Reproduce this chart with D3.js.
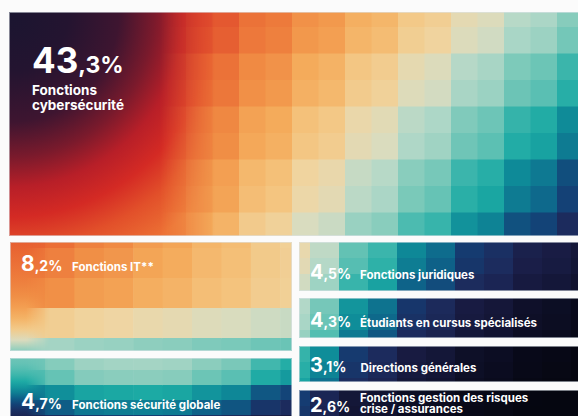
<!DOCTYPE html>
<html>
<head>
<meta charset="utf-8">
<script src="https://cdn.jsdelivr.net/npm/d3@7"></script>
<style>
  html, body { margin: 0; padding: 0; background: #fbfbfb; }
  svg { display: block; font-family: Inter, "Noto Sans", sans-serif; }
</style>
</head>
<body>
<div id="chart"></div>
<script>
// data
const categories = [
  "Fonctions cybersécurité",
  "Fonctions IT**",
  "Fonctions sécurité globale",
  "Fonctions juridiques",
  "Étudiants en cursus spécialisés",
  "Directions générales",
  "Fonctions gestion des risques crise / assurances"
];
const shares = [43.3, 8.2, 4.7, 4.5, 4.3, 3.1, 2.6];

const width = 578, height = 416;

// colour ramp used by the mosaic (position t -> colour)
const rampT = [0, 0.08, 0.16, 0.25, 0.33, 0.41, 0.48, 0.54, 0.6, 0.67, 0.74, 0.8, 0.86, 0.92, 0.98, 1.04, 1.12, 1.22, 1.35, 1.5];
const rampC = ["#cf2a26", "#de452c", "#ea6a34", "#f08c44", "#f4aa5a", "#f4c47e", "#efd6a4", "#d8dcc0",
  "#b2d8c8", "#86ccbc", "#4ebcb0", "#1caaa4", "#0e8a98", "#0e6088", "#143e74", "#1c2c5e",
  "#1a1e48", "#121432", "#0a0b1e", "#050610"];
const tone = d3.scaleLinear().domain(rampT).range(rampC).interpolate(d3.interpolateRgb).clamp(true);

// tiles layout (one per category, same order)
const tiles = [
  { x0: 9, y0: 12, x1: 600, y1: 236, ux: [186, 578], cell: [26.5, 26.5], gx: 186, gy: 0.5, mix: 0.5,
    f: (u, v) => 0.06 + 0.6 * u + 0.24 * v + 0.16 * u * v, smooth: "radial",
    num: [32, 73, 35, 23], lab: [32, 94.5, 13.5, 15, 12] },
  { x0: 10, y0: 242, x1: 292, y1: 351, ux: [10, 292], cell: [29.4, 30], gx: 15.6, gy: 248, mix: 0.35,
    f: (u, v) => 0.12 + 0.34 * u + 0.22 * v + 0.32 * Math.pow(v, 4) - 0.25 * u * v, smooth: [26, 50],
    num: [21, 271, 21, 14], lab: [72, 271, 11.5, 11, 99] },
  { x0: 10, y0: 358, x1: 292, y1: 440, ux: [10, 292], cell: [29.4, 15], gx: 15.6, gy: 355, mix: 0.4,
    f: (u, v) => 0.6 + 0.6 * (u - 0.45) * (u - 0.45) + 0.38 * Math.pow(v, 1.5), smooth: [26, 48],
    num: [21, 409, 21, 14], lab: [72, 409, 11.5, 11, 99] },
  { x0: 299, y0: 242, x1: 600, y1: 291, ux: [299, 578], cell: [29, 16], gx: 281, gy: 242, mix: 0.4,
    f: (u, v) => 0.45 + 0.72 * Math.pow(u, 0.7) + 0.08 * v,
    num: [310, 279, 20, 14], lab: [360, 279, 11.5, 11, 99] },
  { x0: 299, y0: 298, x1: 600, y1: 338, ux: [299, 578], cell: [29, 16], gx: 281, gy: 298, mix: 0.4,
    f: (u, v) => 0.55 + 0.8 * Math.pow(u, 0.7) + 0.06 * v,
    num: [310, 326.5, 20, 14], lab: [360, 326.5, 11.5, 11, 99] },
  { x0: 299, y0: 346, x1: 600, y1: 382, ux: [299, 578], cell: [29, 16], gx: 281, gy: 346, mix: 0.4,
    f: (u, v) => 0.72 + 0.75 * Math.pow(u, 0.7) + 0.06 * v,
    num: [310, 372.3, 20, 14], lab: [360.5, 372.3, 11.5, 11, 99] },
  { x0: 299, y0: 390, x1: 600, y1: 440, ux: [299, 578], cell: [29, 16], gx: 281, gy: 390, mix: 0.4,
    f: (u, v) => 0.93 + 0.6 * Math.pow(u, 0.6) + 0.05 * v,
    num: [310, 412, 20, 14], lab: [360, 402, 11.5, 11, 30] }
];

const svg = d3.select("#chart").append("svg")
  .attr("width", width)
  .attr("height", height)
  .style("background", "#fbfbfb");
const defs = svg.append("defs");

function wrap(text, max) {
  const words = text.split(" "), lines = [];
  let cur = "";
  words.forEach(w => {
    const next = cur ? cur + " " + w : w;
    if (next.length > max && cur) { lines.push(cur); cur = w; } else cur = next;
  });
  lines.push(cur);
  return lines;
}

const fmt = d3.format(".1f");

tiles.forEach((t, i) => {
  const w = t.x1 - t.x0, h = t.y1 - t.y0;
  const yv = Math.min(t.y1, height);
  defs.append("clipPath").attr("id", "clip" + i)
    .append("rect").attr("x", t.x0).attr("y", t.y0).attr("width", w).attr("height", h);

  const ux = d3.scaleLinear().domain(t.ux).range([0, 1]).clamp(true);
  const vy = d3.scaleLinear().domain([t.y0, yv]).range([0, 1]).clamp(true);
  const [bw, bh] = t.cell;

  const cols = d3.range(Math.floor((t.x0 - t.gx) / bw) - 1, Math.ceil((t.x1 - t.gx) / bw) + 1);
  const rows = d3.range(Math.floor((t.y0 - t.gy) / bh) - 1, Math.ceil((t.y1 - t.gy) / bh) + 1);
  const cells = d3.cross(cols, rows).map(([c, r]) => {
    const x = t.gx + c * bw, y = t.gy + r * bh;
    const cx2 = t.gx + (Math.floor(c / 2) * 2 + 1) * bw;
    const cy2 = t.gy + (Math.floor(r / 2) * 2 + 1) * bh;
    const val = (1 - t.mix) * t.f(ux(x + bw / 2), vy(y + bh / 2)) + t.mix * t.f(ux(cx2), vy(cy2));
    return { x, y, val };
  });

  const g = svg.append("g").attr("clip-path", `url(#clip${i})`);
  g.selectAll("rect.cell")
    .data(cells)
    .join("rect")
    .attr("class", "cell")
    .attr("x", d => d.x)
    .attr("y", d => d.y)
    .attr("width", bw + 0.6)
    .attr("height", bh + 0.6)
    .attr("fill", d => tone(d.val));

  // smooth part on the left of the tile
  if (t.smooth) {
    const fade = t.smooth === "radial" ? [160, 215] : t.smooth;
    const fg = defs.append("linearGradient").attr("id", "fade" + i)
      .attr("gradientUnits", "userSpaceOnUse")
      .attr("x1", fade[0]).attr("x2", fade[1]).attr("y1", 0).attr("y2", 0);
    fg.append("stop").attr("offset", 0).attr("stop-color", "#fff");
    fg.append("stop").attr("offset", 1).attr("stop-color", "#000");
    defs.append("mask").attr("id", "mask" + i).attr("maskUnits", "userSpaceOnUse")
      .attr("x", 0).attr("y", 0).attr("width", width).attr("height", height)
      .append("rect").attr("x", t.x0).attr("y", t.y0).attr("width", fade[1] - t.x0).attr("height", h)
      .attr("fill", `url(#fade${i})`);

    if (t.smooth === "radial") {
      const dist = [0, 60, 110, 145, 175, 205, 235, 270];
      const dcol = ["#1a1530", "#241430", "#3e1530", "#7a1a2c", "#b81f28", "#d42a24", "#e2502a", "#ec7034"];
      const rg = defs.append("radialGradient").attr("id", "sm" + i)
        .attr("gradientUnits", "userSpaceOnUse")
        .attr("cx", t.x0).attr("cy", t.y0).attr("r", 270);
      dist.forEach((d, k) => rg.append("stop").attr("offset", d / 270).attr("stop-color", dcol[k]));
    } else {
      const lg = defs.append("linearGradient").attr("id", "sm" + i)
        .attr("gradientUnits", "userSpaceOnUse")
        .attr("x1", 0).attr("x2", 0).attr("y1", t.y0).attr("y2", yv);
      d3.range(0, 1.001, 0.1).forEach(v =>
        lg.append("stop").attr("offset", v).attr("stop-color", tone(t.f(0.04, v))));
    }
    g.append("rect")
      .attr("x", t.x0).attr("y", t.y0).attr("width", fade[1] - t.x0).attr("height", h)
      .attr("fill", `url(#sm${i})`)
      .attr("mask", `url(#mask${i})`);
  }

  g.append("rect")
    .attr("x", t.x0 + 0.5).attr("y", t.y0 + 0.5).attr("width", w - 1).attr("height", h - 1)
    .attr("fill", "none").attr("stroke", "#dde4ea").attr("stroke-opacity", 0.55);

  // value
  const parts = fmt(shares[i]).split(".");
  const [nx, ny, ns, ss] = t.num;
  const txt = svg.append("text")
    .attr("x", nx).attr("y", ny)
    .attr("fill", "#fff")
    .attr("font-weight", 700);
  txt.append("tspan").attr("font-size", ns).text(parts[0]);
  txt.append("tspan").attr("font-size", ss).text("," + parts[1] + "%");

  // label
  const [lx, ly, ls, lh, lw] = t.lab;
  svg.append("text")
    .attr("x", lx).attr("y", ly)
    .attr("fill", "#fff")
    .attr("font-weight", 700)
    .attr("font-size", ls)
    .selectAll("tspan")
    .data(wrap(categories[i], lw))
    .join("tspan")
    .attr("x", lx)
    .attr("dy", (d, k) => (k === 0 ? 0 : lh))
    .text(d => d);
});
</script>
</body>
</html>
